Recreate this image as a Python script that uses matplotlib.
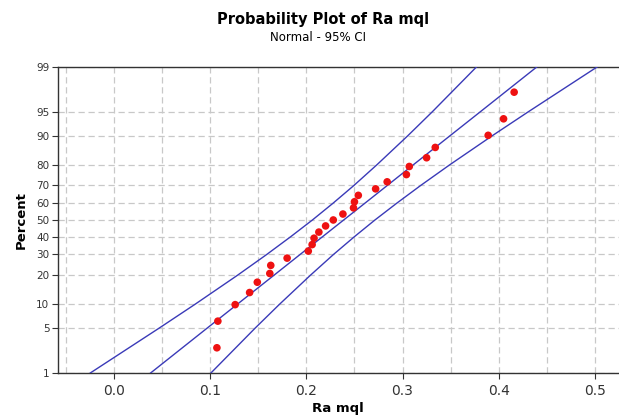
import numpy as np
import matplotlib
matplotlib.use("Agg")
import matplotlib.pyplot as plt
from statistics import NormalDist

# observed Ra mql values and their plotted percent (median ranks)
ra_mql = [0.107, 0.108, 0.126, 0.141, 0.149, 0.162, 0.163, 0.180, 0.202,
          0.206, 0.208, 0.213, 0.220, 0.228, 0.238, 0.249, 0.250, 0.254,
          0.272, 0.284, 0.304, 0.307, 0.325, 0.334, 0.389, 0.405, 0.416]
percent = [2.6, 6.2, 9.9, 13.5, 17.2, 20.8, 24.5, 28.1, 31.8, 35.4, 39.1,
           42.7, 46.4, 50.0, 53.6, 57.3, 60.9, 64.6, 68.2, 71.9, 75.5,
           79.2, 82.8, 86.5, 90.1, 93.8, 97.4]

# fitted line and 95% CI read at the percent ticks
pct_ticks = [1, 5, 10, 20, 30, 40, 50, 60, 70, 80, 90, 95, 99]
fit_x = [0.0381, 0.0968, 0.1282, 0.1662, 0.1935, 0.2169, 0.2388,
         0.2607, 0.2841, 0.3114, 0.3494, 0.3808, 0.4395]
ci_low = [-0.0246, 0.0469, 0.0843, 0.1283, 0.1588, 0.1838, 0.2063,
          0.2276, 0.2494, 0.2735, 0.3055, 0.3309, 0.3768]
ci_high = [0.1008, 0.1467, 0.1721, 0.2041, 0.2282, 0.2500, 0.2713,
           0.2938, 0.3188, 0.3493, 0.3933, 0.4307, 0.5022]
x_ticks = [0.0, 0.1, 0.2, 0.3, 0.4, 0.5]
x_grid = [-0.05, 0.0, 0.05, 0.1, 0.15, 0.2, 0.25, 0.3, 0.35, 0.4, 0.45, 0.5]

_nd = NormalDist()
_ppf = np.vectorize(_nd.inv_cdf, otypes=[float])
_cdf = np.vectorize(_nd.cdf, otypes=[float])


def pct_to_z(p):
    p = np.clip(np.asarray(p, dtype=float) / 100.0, 1e-9, 1 - 1e-9)
    return _ppf(p)


def z_to_pct(z):
    return _cdf(np.asarray(z, dtype=float)) * 100.0


fig = plt.figure(figsize=(6.19, 4.16), dpi=100)
ax = fig.add_axes([0.0932, 0.1034, 0.9068, 0.7356])
ax.set_yscale("function", functions=(pct_to_z, z_to_pct))

line_col = "#3a3ab8"
ax.plot(ci_low, pct_ticks, color=line_col, lw=1.0, zorder=3)
ax.plot(fit_x, pct_ticks, color=line_col, lw=1.0, zorder=3)
ax.plot(ci_high, pct_ticks, color=line_col, lw=1.0, zorder=3)
ax.scatter(ra_mql, percent, s=30, color="#ee1111", edgecolors="none", zorder=4)

ax.set_xlim(-0.0585, 0.525)
ax.set_ylim(1, 99)

ax.set_xticks(x_ticks)
ax.set_xticklabels([f"{v:.1f}" for v in x_ticks])
ax.set_yticks(pct_ticks)
ax.set_yticklabels([str(p) for p in pct_ticks])
ax.yaxis.set_minor_locator(matplotlib.ticker.NullLocator())
ax.xaxis.set_minor_locator(matplotlib.ticker.NullLocator())

grid_kw = dict(color="#c8c8c8", linestyle=(0, (5, 3)), linewidth=0.9, zorder=1)
for gx in x_grid:
    ax.axvline(gx, **grid_kw)
ax.grid(True, axis="y", which="major", color="#c8c8c8",
        linestyle=(0, (5, 3)), linewidth=0.9)
ax.set_axisbelow(True)

for s in ["left", "top", "bottom"]:
    ax.spines[s].set_color("#333333")
    ax.spines[s].set_linewidth(1.0)
ax.spines["right"].set_visible(False)

ax.tick_params(axis="x", which="major", length=4, labelsize=10, colors="#333333", pad=4)
ax.tick_params(axis="y", length=4, labelsize=7.5, colors="#333333", pad=2)

ax.set_xlabel("Ra mql", fontsize=9.5, fontweight="bold", labelpad=3)
ax.set_ylabel("Percent", fontsize=9.5, fontweight="bold", labelpad=6)

fig.text(0.522, 0.952, "Probability Plot of Ra mql", ha="center", va="center",
         fontsize=10.5, fontweight="bold")
fig.text(0.514, 0.911, "Normal - 95% CI", ha="center", va="center", fontsize=8.5)

fig.savefig("out.png", dpi=100)
